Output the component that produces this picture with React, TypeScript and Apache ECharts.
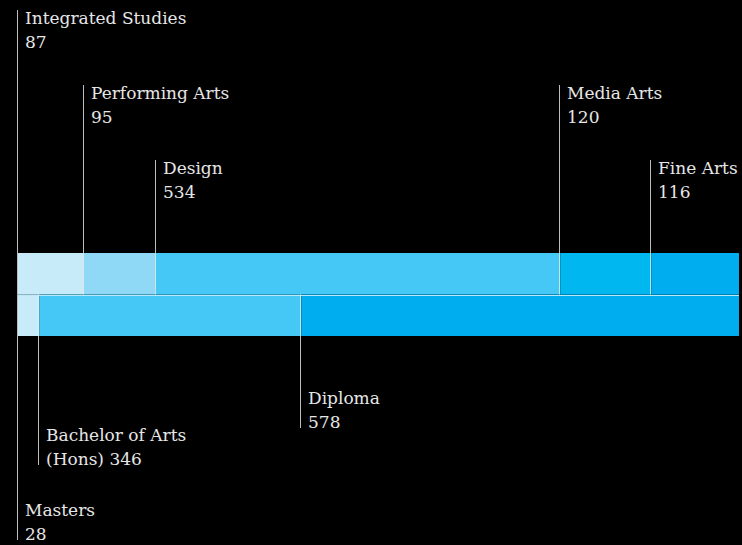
import React, { useEffect, useRef } from "react";
import * as echarts from "echarts";

const barNames = ["Programs", "Awards"];
const programNames = ["Integrated Studies", "Performing Arts", "Design", "Media Arts", "Fine Arts"];
const programValues = [87, 95, 534, 120, 116];
const awardNames = ["Masters", "Bachelor of Arts\n(Hons)", "Diploma"];
const awardValues = [28, 346, 578];

// styles & layout (kept separate from data)
const programColors = ["#c8ebfa", "#8fd9f7", "#45c8f5", "#00b8ef", "#00adee"];
const awardColors = ["#c8ebfa", "#45c8f5", "#00adee"];
const programLabelRise = [243, 168, 93, 168, 93];
const awardLabelDrop = [204, 129, 92];

const FONT_FAMILY = '"DejaVu Serif", serif';
const FONT_SIZE = 17;

export default function App() {
  const ref = useRef<HTMLDivElement>(null);

  useEffect(() => {
    if (!ref.current) return;
    const chart = echarts.init(ref.current, null, { renderer: "svg" });

    const total = programValues.reduce((a, b) => a + b, 0);

    type LabelItem = { start: number; cat: number; name: string; value: number; offset: number; first: boolean };
    const labelItems: LabelItem[] = [];
    let acc = 0;
    programValues.forEach((v, i) => {
      labelItems.push({ start: acc, cat: 0, name: programNames[i], value: v, offset: programLabelRise[i], first: i === 0 });
      acc += v;
    });
    acc = 0;
    awardValues.forEach((v, i) => {
      labelItems.push({ start: acc, cat: 1, name: awardNames[i], value: v, offset: awardLabelDrop[i], first: i === 0 });
      acc += v;
    });

    const barSeries: any[] = [];
    programValues.forEach((v, i) => {
      barSeries.push({
        type: "bar",
        name: programNames[i],
        stack: "all",
        data: [v, null],
        barCategoryGap: 0,
        itemStyle: { color: programColors[i] },
        silent: true,
      });
    });
    awardValues.forEach((v, i) => {
      barSeries.push({
        type: "bar",
        name: awardNames[i],
        stack: "all",
        data: [null, v],
        barCategoryGap: 0,
        itemStyle: { color: awardColors[i] },
        silent: true,
      });
    });

    const lineColor = "rgba(235,235,235,0.8)";

    const customSeries = {
      type: "custom",
      coordinateSystem: "cartesian2d",
      clip: false,
      silent: true,
      z: 10,
      data: labelItems.map((it) => [it.start, it.cat]),
      encode: { x: 0, y: 1 },
      renderItem: (params: any, api: any) => {
        const it = labelItems[params.dataIndex];
        const p = api.coord([it.start, it.cat]);
        const bandH = api.size([0, 1])[1];
        const x = Math.round(p[0]) - 0.5;
        const top = p[1] - bandH / 2;
        const bottom = p[1] + bandH / 2;
        const text = it.name + (it.name.indexOf("\n") >= 0 ? " " : "\n") + it.value;
        const children: any[] = [];
        const textStyle = {
          text,
          fill: "#e6e6e6",
          fontSize: FONT_SIZE,
          fontFamily: FONT_FAMILY,
          lineHeight: 24,
          align: "left",
        };
        if (it.cat === 0) {
          const lineTop = top - it.offset;
          children.push({
            type: "line",
            shape: { x1: x, y1: lineTop, x2: x, y2: bottom },
            style: { stroke: lineColor, lineWidth: 1 },
          });
          children.push({
            type: "text",
            x: x + 7.5,
            y: lineTop - 4,
            style: { ...textStyle, verticalAlign: "top" },
          });
        } else {
          const lineBottom = bottom + it.offset;
          if (it.first) {
            const pEnd = api.coord([total, it.cat]);
            children.push({
              type: "line",
              shape: { x1: p[0], y1: Math.round(top) + 0.5, x2: pEnd[0], y2: Math.round(top) + 0.5 },
              style: { stroke: "#b8e9fb", lineWidth: 1 },
            });
          }
          children.push({
            type: "line",
            shape: { x1: x, y1: top, x2: x, y2: lineBottom },
            style: { stroke: lineColor, lineWidth: 1 },
          });
          children.push({
            type: "text",
            x: x + 7.5,
            y: lineBottom + 6,
            style: { ...textStyle, verticalAlign: "bottom" },
          });
        }
        return { type: "group", children };
      },
    };

    chart.setOption({
      animation: false,
      backgroundColor: "#000000",
      grid: { left: 18, right: 3, top: 253, bottom: 209, containLabel: false },
      xAxis: { type: "value", min: 0, max: total, show: false },
      yAxis: { type: "category", data: barNames, inverse: true, show: false },
      series: [...barSeries, customSeries],
    });

    return () => chart.dispose();
  }, []);

  return (
    <div
      ref={ref}
      style={{ position: "fixed", left: 0, top: 0, width: 742, height: 545, background: "#000" }}
    />
  );
}
